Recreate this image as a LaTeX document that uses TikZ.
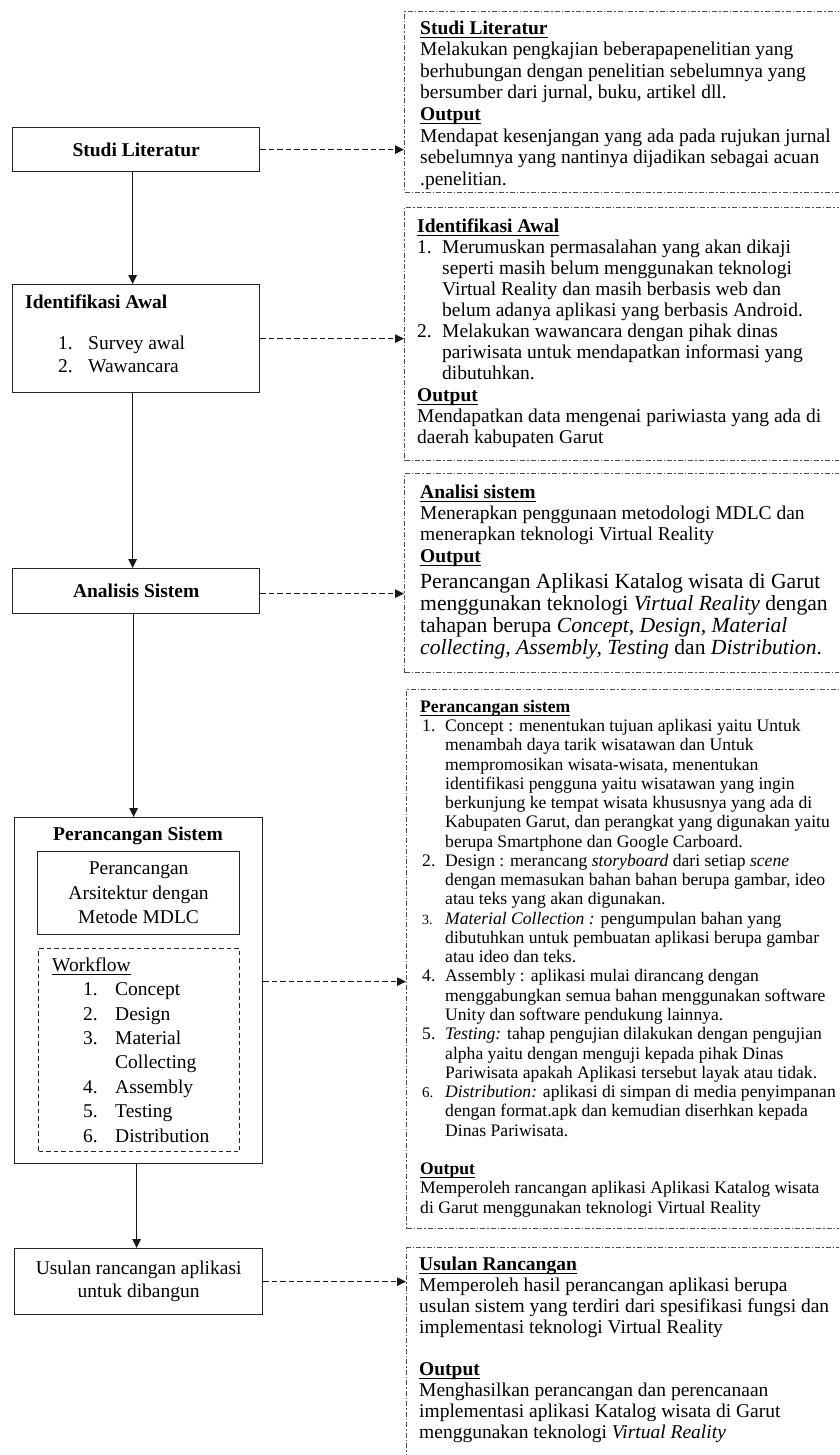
\documentclass[tikz,border=0pt]{standalone}
\usepackage{fontspec}
\setmainfont{Liberation Serif}
\usetikzlibrary{arrows.meta}
\newsavebox\ulbox
\newcommand{\undl}[1]{\sbox\ulbox{#1}\rlap{\rule[-3.8pt]{\wd\ulbox}{1.2pt}}\usebox\ulbox}
\newcommand{\fst}{\rule{0pt}{16pt}}
\newcommand{\nbx}[1]{\makebox[25pt][l]{#1}}
\newcommand{\nix}{\hspace*{25pt}}
\newcommand{\nbbx}[1]{\hspace*{2pt}\makebox[23pt][l]{#1}}
\newcommand{\wix}[1]{\hspace*{31pt}\makebox[32pt][l]{#1}}
\begin{document}
\begin{tikzpicture}[x=1pt,y=-1pt,
  every node/.style={inner sep=0pt, text=black},
  lbox/.style={draw=black!85, line width=1.3pt, anchor=north west},
  rbox/.style={draw=black!70, line width=1pt, dash pattern=on 5pt off 2pt on 1.5pt off 2pt, anchor=north west},
  wbox/.style={draw=black!85, line width=1.1pt, dash pattern=on 4.5pt off 3pt, anchor=north west},
  txt/.style={anchor=north west, align=left},
  arr/.style={draw=black!90, line width=1.2pt, -{Triangle[length=9pt,width=8.5pt]}},
  darr/.style={draw=black!90, line width=1.1pt, dash pattern=on 5.5pt off 3pt, -{Triangle[length=9pt,width=8.5pt]}}
]
\useasboundingbox (0,0) rectangle (839,1455);
\clip (0,0) rectangle (839,1455);

% ---------------- left column ----------------
\node[lbox, minimum width=247pt, minimum height=44pt, font=\fontsize{19.5}{23}\selectfont\bfseries] (studi) at (12,127) {Studi Literatur};

\node[lbox, minimum width=247pt, minimum height=108pt] (ident) at (12,284) {};
\node[txt, font=\fontsize{19.5}{23}\selectfont\bfseries] (identT) at (25,292) {\fst Identifikasi Awal};
\node[txt, font=\fontsize{19.5}{23}\selectfont] (identL) at (58,333) {\fst\makebox[30pt][l]{1.}Survey awal\\\makebox[30pt][l]{2.}Wawancara};

\node[lbox, minimum width=247pt, minimum height=45pt, font=\fontsize{19.5}{23}\selectfont\bfseries] (ana) at (12,568) {Analisis Sistem};

\node[lbox, minimum width=248pt, minimum height=346pt] (perc) at (14,817) {};
\node[anchor=base, font=\fontsize{19.5}{23}\selectfont\bfseries] (percT) at (138,840) {Perancangan Sistem};
\node[lbox, line width=1.2pt, minimum width=202pt, minimum height=83pt, align=center, font=\fontsize{19.5}{24.5}\selectfont] (mdlc) at (37,851) {Perancangan\\Arsitektur dengan\\Metode MDLC};
\node[wbox, minimum width=201pt, minimum height=203pt] (wf) at (38,948) {};
\node[txt, font=\fontsize{19.5}{24.4}\selectfont] (wfT) at (52,955) {\fst\undl{Workflow}\\
\wix{1.}Concept\\
\wix{2.}Design\\
\wix{3.}Material\\
\hspace*{63pt}Collecting\\
\wix{4.}Assembly\\
\wix{5.}Testing\\
\wix{6.}Distribution};

\node[lbox, minimum width=248pt, minimum height=66pt, align=center, font=\fontsize{19.5}{23}\selectfont] (usul) at (14,1248) {Usulan rancangan aplikasi\\untuk dibangun};

% ---------------- right column ----------------
\node[rbox, minimum width=470pt, minimum height=181pt] (r1) at (404,11) {};
\node[txt, font=\fontsize{19.5}{21.6}\selectfont] (r1T) at (420,18) {\fst\undl{\textbf{Studi Literatur}}\\
Melakukan pengkajian beberapapenelitian yang\\
berhubungan dengan penelitian sebelumnya yang\\
bersumber dari jurnal, buku, artikel dll.\\
\undl{\textbf{Output}}\\
Mendapat kesenjangan yang ada pada rujukan jurnal\\
sebelumnya yang nantinya dijadikan sebagai acuan\\
.penelitian.};

\node[rbox, minimum width=470pt, minimum height=253pt] (r2) at (404,207) {};
\node[txt, font=\fontsize{19.5}{21.1}\selectfont] (r2T) at (417,216) {\fst\undl{\textbf{Identifikasi Awal}}\\
\nbx{1.}Merumuskan permasalahan yang akan dikaji\\
\nix seperti masih belum menggunakan teknologi\\
\nix Virtual Reality dan masih berbasis web dan\\
\nix belum adanya aplikasi yang berbasis Android.\\
\nbx{2.}Melakukan wawancara dengan pihak dinas\\
\nix pariwisata untuk mendapatkan informasi yang\\
\nix dibutuhkan.\\
\undl{\textbf{Output}}\\
Mendapatkan data mengenai pariwiasta yang ada di\\
daerah kabupaten Garut};

\node[rbox, minimum width=470pt, minimum height=199pt] (r3) at (404,473) {};
\node[txt, font=\fontsize{19.5}{21.3}\selectfont] (r3T) at (420,482) {\fst\undl{\textbf{Analisi sistem}}\\
Menerapkan penggunaan metodologi MDLC dan\\
menerapkan teknologi Virtual Reality\\
\undl{\textbf{Output}}};
\node[txt, font=\fontsize{21.6}{22}\selectfont] (r3O) at (420,572) {\fst Perancangan Aplikasi Katalog wisata di Garut\\
menggunakan teknologi \textit{Virtual Reality} dengan\\
tahapan berupa \textit{Concept, Design, Material}\\
\textit{collecting, Assembly, Testing} dan \textit{Distribution}.};

\node[rbox, minimum width=470pt, minimum height=539pt] (r4) at (406,689) {};
\node[txt, font=\fontsize{17.6}{19.27}\selectfont] (r4T) at (420,696) {\fst\undl{\textbf{Perancangan sistem}}\\
\nbbx{1.}Concept : menentukan tujuan aplikasi yaitu Untuk\\
\nix menambah daya tarik wisatawan dan Untuk\\
\nix mempromosikan wisata-wisata, menentukan\\
\nix identifikasi pengguna yaitu wisatawan yang ingin\\
\nix berkunjung ke tempat wisata khususnya yang ada di\\
\nix Kabupaten Garut, dan perangkat yang digunakan yaitu\\
\nix berupa Smartphone dan Google Carboard.\\
\nbbx{2.}Design : merancang \textit{storyboard} dari setiap \textit{scene}\\
\nix dengan memasukan bahan bahan berupa gambar, ideo\\
\nix atau teks yang akan digunakan.\\
\nbbx{\fontsize{14}{19.27}\selectfont 3.}\textit{Material Collection :} pengumpulan bahan yang\\
\nix dibutuhkan untuk pembuatan aplikasi berupa gambar\\
\nix atau ideo dan teks.\\
\nbbx{4.}Assembly : aplikasi mulai dirancang dengan\\
\nix menggabungkan semua bahan menggunakan software\\
\nix Unity dan software pendukung lainnya.\\
\nbbx{5.}\textit{Testing:} tahap pengujian dilakukan dengan pengujian\\
\nix alpha yaitu dengan menguji kepada pihak Dinas\\
\nix Pariwisata apakah Aplikasi tersebut layak atau tidak.\\
\nbbx{\fontsize{15}{19.27}\selectfont 6.}\textit{Distribution:} aplikasi di simpan di media penyimpanan\\
\nix dengan format.apk dan kemudian diserhkan kepada\\
\nix Dinas Pariwisata.\\[19.27pt]
\undl{\textbf{Output}}\\
Memperoleh rancangan aplikasi Aplikasi Katalog wisata\\
di Garut menggunakan teknologi Virtual Reality};

\node[rbox, minimum width=470pt, minimum height=240pt] (r5) at (406,1247) {};
\node[txt, font=\fontsize{19.5}{21}\selectfont] (r5T) at (419,1254) {\fst\undl{\textbf{Usulan Rancangan}}\\
Memperoleh hasil perancangan aplikasi berupa\\
usulan sistem yang terdiri dari spesifikasi fungsi dan\\
implementasi teknologi Virtual Reality\\[21pt]
\undl{\textbf{Output}}\\
Menghasilkan perancangan dan perencanaan\\
implementasi aplikasi Katalog wisata di Garut\\
menggunakan teknologi \textit{Virtual Reality}};

% ---------------- connectors ----------------
\draw[arr] ([xshift=-3.5pt]studi.south) -- ([xshift=-3.5pt]ident.north);
\draw[arr] ([xshift=-3.5pt]ident.south) -- ([xshift=-3.5pt]ana.north);
\draw[arr] ([xshift=-2.5pt]ana.south) -- ([xshift=-2.5pt]ana.south |- perc.north);
\draw[arr] ([xshift=-2pt]perc.south) -- ([xshift=-2pt]usul.north);

\draw[darr] (studi.east) -- (studi.east -| r1.west);
\draw[darr] (ident.east) -- (ident.east -| r2.west);
\draw[darr] ([yshift=-2.5pt]ana.east) -- ([yshift=-2.5pt]ana.east -| r3.west);
\draw[darr] ([yshift=9pt]perc.east) -- ([yshift=9pt]perc.east -| r4.west);
\draw[darr] (usul.east) -- (usul.east -| r5.west);
\end{tikzpicture}
\end{document}
